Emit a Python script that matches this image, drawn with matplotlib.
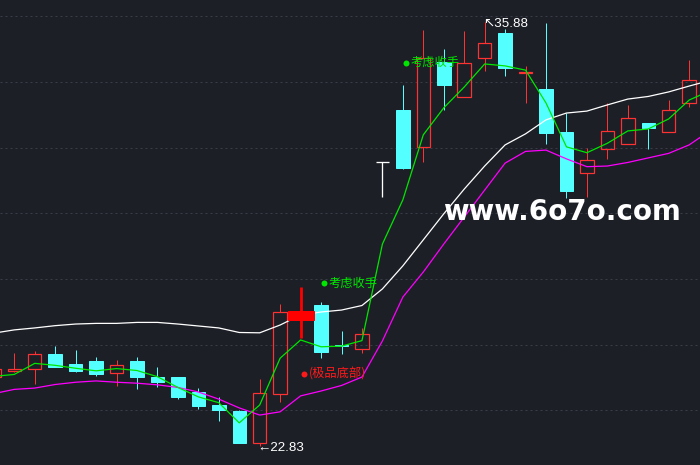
import matplotlib
matplotlib.use("Agg")
import matplotlib.pyplot as plt
from matplotlib.patches import Rectangle

# ---------------- data ----------------
candle_idx = list(range(-1, 34))
opens = [24.95, 25.14, 25.19, 25.66, 25.35, 25.44, 25.07, 25.44, 24.95, 24.95,
         24.49, 24.09, 23.91, 22.93, 24.43, 26.70, 27.17, 25.92, 25.80, 31.57,
         33.16, 32.02, 34.65, 33.57, 34.75, 35.54, 34.30, 33.81, 32.49, 31.22,
         31.96, 32.11, 32.77, 32.48, 33.37]
highs = [25.29, 25.70, 25.75, 25.90, 25.78, 25.56, 25.47, 25.56, 25.25, 24.95,
         24.61, 24.33, 23.94, 24.89, 27.20, 27.73, 27.27, 26.37, 26.45, 31.57,
         33.93, 35.62, 35.03, 35.59, 35.88, 35.66, 34.52, 35.84, 33.06, 32.00,
         33.37, 33.32, 32.77, 33.47, 34.70]
lows = [24.86, 25.10, 24.74, 25.27, 25.11, 24.99, 24.68, 24.59, 24.65, 24.27,
        23.96, 23.61, 22.93, 22.83, 24.19, 26.14, 25.53, 25.65, 25.68, 30.50,
        31.35, 31.57, 33.16, 33.57, 34.37, 34.22, 33.39, 32.12, 30.45, 30.50,
        31.65, 32.11, 31.97, 32.48, 33.27]
closes = [25.20, 25.19, 25.66, 25.27, 25.14, 25.05, 25.31, 24.96, 24.79, 24.35,
          24.07, 23.95, 22.93, 24.45, 26.94, 26.97, 25.73, 25.89, 26.26, 31.57,
          31.39, 34.75, 33.93, 34.60, 35.22, 34.47, 34.32, 32.45, 30.68, 31.62,
          32.52, 32.91, 32.62, 33.15, 34.08]
highlight_idx = [14]

line_idx = list(range(-1, 35))
white_line = [26.30, 26.40, 26.46, 26.53, 26.58, 26.60, 26.60, 26.63, 26.63, 26.58,
              26.52, 26.46, 26.32, 26.31, 26.55, 26.86, 26.95, 27.01, 27.15, 27.66,
              28.37, 29.17, 29.97, 30.73, 31.44, 32.09, 32.43, 32.86, 33.07, 33.13,
              33.32, 33.50, 33.58, 33.72, 33.90, 34.07]
green_line = [24.97, 25.03, 25.37, 25.31, 25.22, 25.14, 25.21, 25.15, 24.96, 24.63,
              24.34, 24.16, 23.54, 24.09, 25.53, 26.09, 25.88, 25.90, 26.07, 29.04,
              30.40, 32.40, 33.23, 33.87, 34.58, 34.52, 34.39, 33.38, 32.03, 31.85,
              32.14, 32.52, 32.58, 32.89, 33.47, 33.75]
magenta_line = [24.44, 24.57, 24.61, 24.72, 24.79, 24.83, 24.79, 24.76, 24.71, 24.63,
                24.49, 24.27, 24.00, 23.78, 23.88, 24.37, 24.52, 24.69, 24.95, 26.06,
                27.41, 28.18, 29.04, 29.87, 30.70, 31.53, 31.89, 31.93, 31.66, 31.42,
                31.44, 31.55, 31.69, 31.83, 32.09, 32.52]
grid_levels = [23.93, 25.95, 27.97, 29.99, 32.00, 34.02, 36.04]

low_label = "22.83"
high_label = "35.88"
signal_text = "考虑收手"
bottom_text = "(极品底部)"

# ---------------- style ----------------
BG = "#1d1f27"
RED = "#ff3232"
CYAN = "#54ffff"
GREEN = "#00e600"
MAGENTA = "#ff00ff"
PX = 0.72  # one pixel in points

fig = plt.figure(figsize=(7.0, 4.65), dpi=100, facecolor=BG)
ax = fig.add_axes([0, 0, 1, 1])
ax.set_facecolor(BG)
ax.set_xlim(-0.699, 33.53)
ax.set_ylim(22.244, 36.547)
ax.axis("off")

for g in grid_levels:
    ax.axhline(g, color="#3a3d48", lw=PX, ls=(0, (2, 3)), zorder=1)

W = 0.66
for i, o, h, l, c in zip(candle_idx, opens, highs, lows, closes):
    if i in highlight_idx:
        continue
    top, bot = max(o, c), min(o, c)
    if c > o:
        col = RED
        ax.vlines(i, top, h, color=col, lw=PX, zorder=2)
        ax.vlines(i, l, bot, color=col, lw=PX, zorder=2)
        ax.add_patch(Rectangle((i - W / 2, bot), W, top - bot, facecolor="none",
                               edgecolor=col, lw=PX * 1.2, zorder=3))
    elif c < o:
        col = CYAN
        ax.vlines(i, l, h, color=col, lw=PX, zorder=2)
        ax.add_patch(Rectangle((i - W / 2, bot), W, top - bot, facecolor=col,
                               edgecolor=col, lw=PX, zorder=3))
    else:
        col = "white"
        ax.vlines(i, l, h, color=col, lw=PX * 1.3, zorder=2)
        ax.hlines(c, i - W / 2, i + W / 2, color=col, lw=PX * 1.3, zorder=3)

ax.plot(line_idx, white_line, color="white", lw=0.9, zorder=4)
ax.plot(line_idx, magenta_line, color=MAGENTA, lw=0.9, zorder=4)
ax.plot(line_idx, green_line, color=GREEN, lw=0.9, zorder=4)

# highlighted (signal) candle drawn on top
for i in highlight_idx:
    j = candle_idx.index(i)
    o, h, l, c = opens[j], highs[j], lows[j], closes[j]
    ax.vlines(i, l, h, color="#ff0000", lw=2.0, zorder=5)
    ax.add_patch(Rectangle((i - 0.64, min(o, c)), 1.28, abs(c - o),
                           facecolor="#ff0000", edgecolor="#ff0000", lw=PX, zorder=5))

def px(x, y):
    return x / 700.0, 1 - y / 465.0

cjk = ["Noto Sans CJK SC", "DejaVu Sans"]

def dot_label(x, y, text, color):
    ax.plot(*px(x, y), "o", transform=ax.transAxes, color=color, ms=4.3,
            mew=0, zorder=6)
    ax.text(*px(x + 4.5, y), text, transform=ax.transAxes, color=color,
            fontsize=8.8, family=cjk, va="center", ha="left", zorder=6)

dot_label(405.5, 62.7, signal_text, GREEN)
dot_label(324.3, 283.3, signal_text, GREEN)
dot_label(304.0, 374.0, bottom_text, "#ff1a1a")

lab = ["Liberation Sans", "DejaVu Sans"]
ax.text(*px(257, 448), "←" + low_label, transform=ax.transAxes, color="white",
        fontsize=9.6, family=lab, va="center", ha="left", zorder=6)
ax.text(*px(483, 24), "↖" + high_label, transform=ax.transAxes, color="white",
        fontsize=9.6, family=lab, va="center", ha="left", zorder=6)

ax.text(*px(562, 212), "www.6o7o.com", transform=ax.transAxes, color="white",
        fontsize=20, fontweight="bold", family="DejaVu Sans",
        va="center", ha="center", zorder=7)

fig.savefig("out.png", dpi=100, facecolor=BG)
